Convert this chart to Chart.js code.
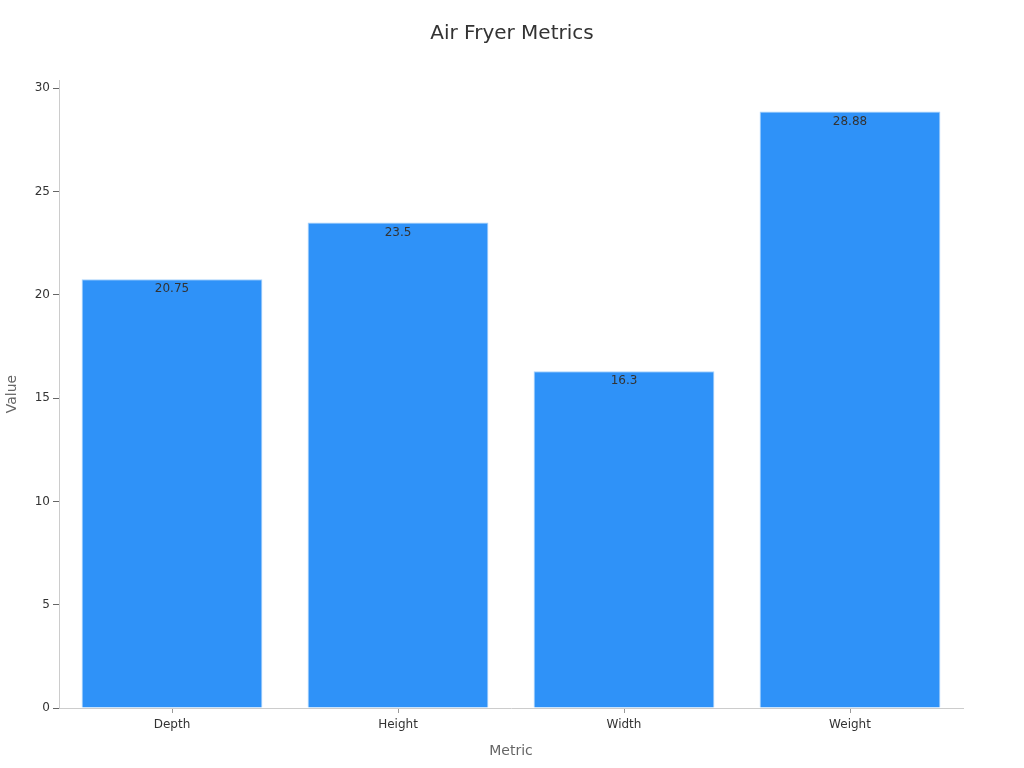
<!DOCTYPE html>
<html><head><meta charset="utf-8">
<script src="https://cdn.jsdelivr.net/npm/chart.js@4"></script>
<style>html,body{margin:0;padding:0;background:#fff}#wrap{width:1024px;height:768px}</style>
</head><body><div id="wrap"><canvas id="c" width="1024" height="768"></canvas></div>
<script>
const categories = ["Depth", "Height", "Width", "Weight"];
const values = [20.75, 23.5, 16.3, 28.88];
const yTicks = [0, 5, 10, 15, 20, 25, 30];
const chartTitle = 'Air Fryer Metrics';

const labelPlugin = {
  id: 'barLabels',
  afterDatasetsDraw(chart) {
    const ctx = chart.ctx;
    const meta = chart.getDatasetMeta(0);
    ctx.save();
    ctx.font = '12px "DejaVu Sans"';
    ctx.fillStyle = '#333';
    ctx.textAlign = 'center';
    ctx.textBaseline = 'middle';
    meta.data.forEach((bar, i) => {
      ctx.fillText(String(values[i]), bar.x, bar.y + 10);
    });
    ctx.restore();
  }
};

const titlePlugin = {
  id: 'pageTitle',
  afterDraw(chart) {
    const ctx = chart.ctx;
    ctx.save();
    ctx.font = '20px "DejaVu Sans"';
    ctx.fillStyle = '#333';
    ctx.textAlign = 'center';
    ctx.textBaseline = 'middle';
    ctx.fillText(chartTitle, chart.width / 2, 34);
    ctx.restore();
  }
};

new Chart(document.getElementById('c'), {
  type: 'bar',
  data: {
    labels: categories,
    datasets: [{
      data: values,
      backgroundColor: '#2f92f8',
      borderColor: '#a9d3fb',
      borderWidth: 1,
      barPercentage: 0.8,
      categoryPercentage: 1.0
    }]
  },
  options: {
    responsive: false,
    animation: false,
    layout: { padding: { left: 0, right: 61, top: 80, bottom: 0 } },
    plugins: {
      legend: { display: false },
      tooltip: { enabled: false },
      title: { display: false }
    },
    scales: {
      x: {
        grid: { display: true, drawOnChartArea: false, offset: false, tickLength: 5, color: '#999' },
        border: { color: '#ccc' },
        ticks: { color: '#333', font: { family: 'DejaVu Sans', size: 12 }, padding: 5 },
        title: { display: true, text: 'Metric', color: '#666', font: { family: 'DejaVu Sans', size: 14 }, padding: { top: 4, bottom: 8 } },
        afterFit(scale) { scale.height = 60; }
      },
      y: {
        min: 0,
        max: 30.4,
        grid: { display: true, drawOnChartArea: false, tickLength: 6, color: '#666' },
        border: { color: '#ccc' },
        ticks: { stepSize: 5, color: '#333', font: { family: 'DejaVu Sans', size: 12 }, padding: 3 },
        afterBuildTicks(scale) { scale.ticks = yTicks.map(v => ({ value: v })); },
        title: { display: true, text: 'Value', color: '#666', font: { family: 'DejaVu Sans', size: 14 }, padding: { top: 4, bottom: 0 } },
        afterFit(scale) { scale.width = 59; }
      }
    }
  },
  plugins: [labelPlugin, titlePlugin]
});
</script></body></html>
